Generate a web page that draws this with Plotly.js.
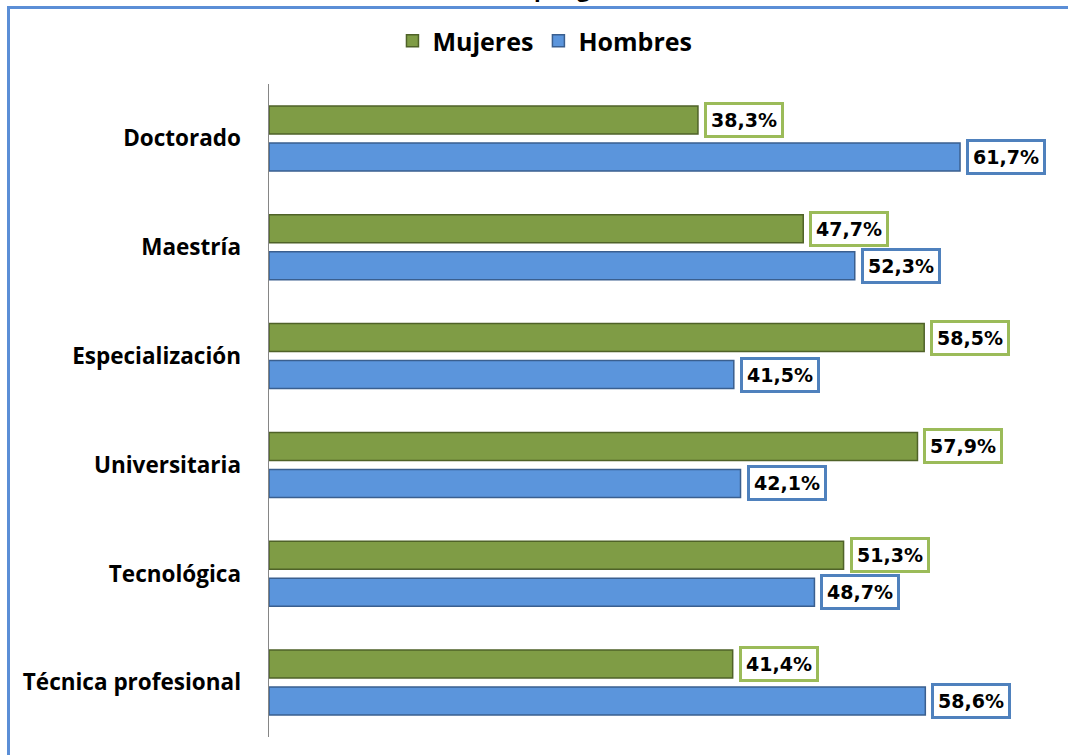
<!DOCTYPE html>
<html>
<head>
<meta charset="utf-8">
<script src="https://cdn.plot.ly/plotly-3.0.1.min.js"></script>
<style>
html,body{margin:0;padding:0;background:#fff;}
#chart{width:1068px;height:755px;}
</style>
</head>
<body>
<div id="chart"></div>
<script>
const titleText = "Graduados por género, 2001-2012";
const categories = ["Doctorado", "Maestría", "Especialización", "Universitaria", "Tecnológica", "Técnica profesional"];
const mujeres = [38.3, 47.7, 58.5, 57.9, 51.3, 41.4];
const hombres = [61.7, 52.3, 41.5, 42.1, 48.7, 58.6];
const seriesNames = ["Mujeres", "Hombres"];

const fmt = v => v.toFixed(1).replace(".", ",") + "%";

const greenFill = "#7F9C45", greenLine = "#4F6228", greenBorder = "#9BBB59";
const blueFill = "#5B95DC", blueLine = "#3A5F8F", blueBorder = "#4F81BD";

const traces = [
  {type: "bar", orientation: "h", name: seriesNames[0], y: categories, x: mujeres,
   marker: {color: greenFill, line: {color: greenLine, width: 1.5}}, hoverinfo: "none"},
  {type: "bar", orientation: "h", name: seriesNames[1], y: categories, x: hombres,
   marker: {color: blueFill, line: {color: blueLine, width: 1.5}}, hoverinfo: "none"}
];

const annotations = [];
const labelFont = {family: "DejaVu Sans", size: 19, color: "#000"};
categories.forEach((c, i) => {
  annotations.push({x: mujeres[i], y: c, xref: "x", yref: "y", xanchor: "left", yanchor: "middle",
    xshift: 6, yshift: 18.5, text: "<b>" + fmt(mujeres[i]) + "</b>", showarrow: false,
    font: labelFont, bgcolor: "#fff", bordercolor: greenBorder, borderwidth: 3, borderpad: 4});
  annotations.push({x: hombres[i], y: c, xref: "x", yref: "y", xanchor: "left", yanchor: "middle",
    xshift: 6, yshift: -18.5, text: "<b>" + fmt(hombres[i]) + "</b>", showarrow: false,
    font: labelFont, bgcolor: "#fff", bordercolor: blueBorder, borderwidth: 3, borderpad: 4});
});
annotations.push({xref: "paper", yref: "paper", x: 0.176, y: (737 - 5) / 653, xanchor: "left", yanchor: "bottom",
  text: "<b>" + titleText + "</b>", showarrow: false, font: {family: "Open Sans", size: 22, color: "#000"}});

const layout = {
  width: 1068, height: 755,
  margin: {l: 269, r: 15, t: 84, b: 18},
  paper_bgcolor: "#fff", plot_bgcolor: "#fff",
  barmode: "group", bargap: 0.32, bargroupgap: 0.243,
  showlegend: true,
  legend: {orientation: "h", x: 0.352, xanchor: "center", y: (737 - 41) / 653, yanchor: "middle",
    font: {family: "Open Sans", size: 25, color: "#000", weight: "bold"}, itemwidth: 30,
    bgcolor: "rgba(0,0,0,0)"},
  xaxis: {range: [0, 70], showgrid: false, zeroline: false, showticklabels: false, showline: false, ticks: ""},
  yaxis: {autorange: "reversed", type: "category", showgrid: false, zeroline: false,
    showline: true, linecolor: "#868686", linewidth: 1.5, ticks: "", ticklabelstandoff: 22,
    tickfont: {family: "Open Sans", size: 22.5, color: "#000", weight: "bold"}},
  annotations: annotations,
  shapes: [{type: "rect", xref: "paper", yref: "paper",
    x0: (8.5 - 269) / 784, x1: (1080 - 269) / 784, y0: (737 - 770) / 653, y1: (737 - 7.5) / 653,
    line: {color: "#5B8ED6", width: 3}, fillcolor: "rgba(0,0,0,0)", layer: "below"}]
};

Plotly.newPlot("chart", traces, layout, {displayModeBar: false, staticPlot: true});
</script>
</body>
</html>
